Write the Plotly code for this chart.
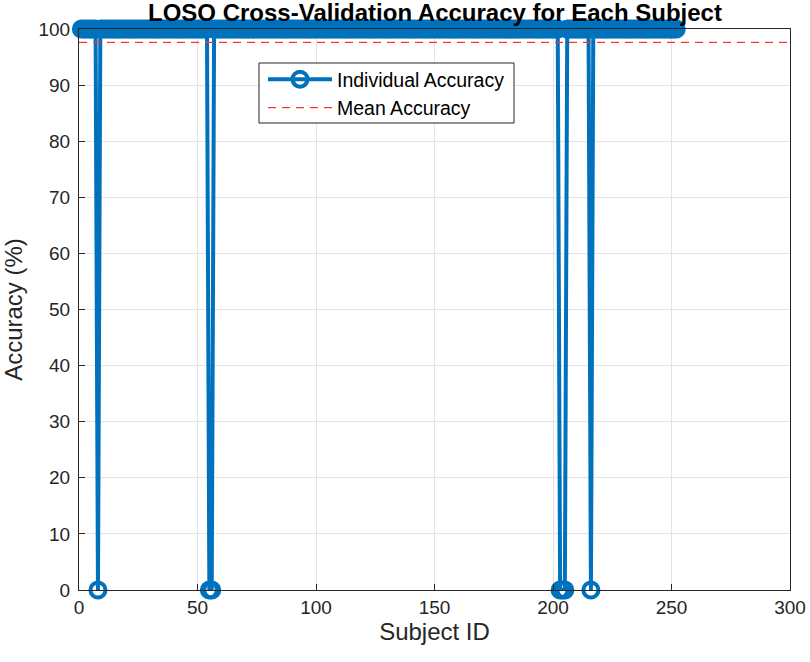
import plotly.graph_objects as go

# ---- data ----
n_subjects = 252
failed_subjects = [8, 55, 56, 203, 204, 205, 216]   # subjects with 0 % accuracy
subject_ids = list(range(1, n_subjects + 1))
accuracy = [0 if s in failed_subjects else 100 for s in subject_ids]
mean_accuracy = 97.6
mean_x = [0, 300]

x_ticks = [0, 50, 100, 150, 200, 250, 300]
y_ticks = [0, 10, 20, 30, 40, 50, 60, 70, 80, 90, 100]

blue = "#0072BD"
red = "#FF3333"
txt = "#262626"
font_family = "Arial, Liberation Sans, sans-serif"

fig = go.Figure()
fig.add_trace(go.Scatter(
    x=subject_ids, y=accuracy, mode="lines+markers",
    name="Individual Accuracy",
    line=dict(color=blue, width=4),
    marker=dict(symbol="circle-open", size=15, color=blue, line=dict(width=4, color=blue)),
    cliponaxis=False,
))
fig.add_trace(go.Scatter(
    x=mean_x, y=[mean_accuracy, mean_accuracy], mode="lines",
    name="Mean Accuracy",
    line=dict(color=red, width=1.2, dash="8px,6px"),
))

axis_common = dict(
    showgrid=True, gridcolor="#e3e3e3", gridwidth=1,
    showline=True, linecolor="#262626", linewidth=1, mirror=True,
    ticks="inside", ticklen=6, tickcolor="#262626",
    tickfont=dict(family=font_family, size=19, color=txt),
    zeroline=False, automargin=False,
)

W, H = 810, 662
L, R, T, B = 79, 20, 29, 72
PW, PH = W - L - R, H - T - B


def px_x(p):
    return (p - L) / PW


def px_y(p):
    return (H - B - p) / PH


fig.update_layout(
    width=W, height=H,
    paper_bgcolor="white", plot_bgcolor="white",
    margin=dict(l=L, r=R, t=T, b=B),
    title=dict(text="<b>LOSO Cross-Validation Accuracy for Each Subject</b>",
               x=0.537, xanchor="center", y=1 - 13 / H, yanchor="middle",
               font=dict(family=font_family, size=24, color="black")),
    xaxis=dict(range=[0, 300], tickvals=x_ticks,
               title=dict(text="Subject ID", font=dict(family=font_family, size=24, color=txt), standoff=0),
               **axis_common),
    yaxis=dict(range=[0, 100], tickvals=y_ticks, ticklabelstandoff=4,
               title=dict(text="Accuracy (%)", font=dict(family=font_family, size=24, color=txt), standoff=10),
               **axis_common),
    legend=dict(x=px_x(263), y=px_y(60), xanchor="left", yanchor="top",
                bgcolor="rgba(0,0,0,0)", borderwidth=0,
                font=dict(family=font_family, size=19.5, color="black"),
                itemwidth=64, tracegroupgap=0),
    showlegend=True,
    shapes=[dict(type="rect", xref="paper", yref="paper",
                 x0=px_x(259), x1=px_x(514), y0=px_y(123), y1=px_y(63),
                 fillcolor="white", line=dict(color="#262626", width=1), layer="above")],
)

fig.write_html("out.html", config={"displayModeBar": False},
               post_script="document.body.style.margin='0px';")
